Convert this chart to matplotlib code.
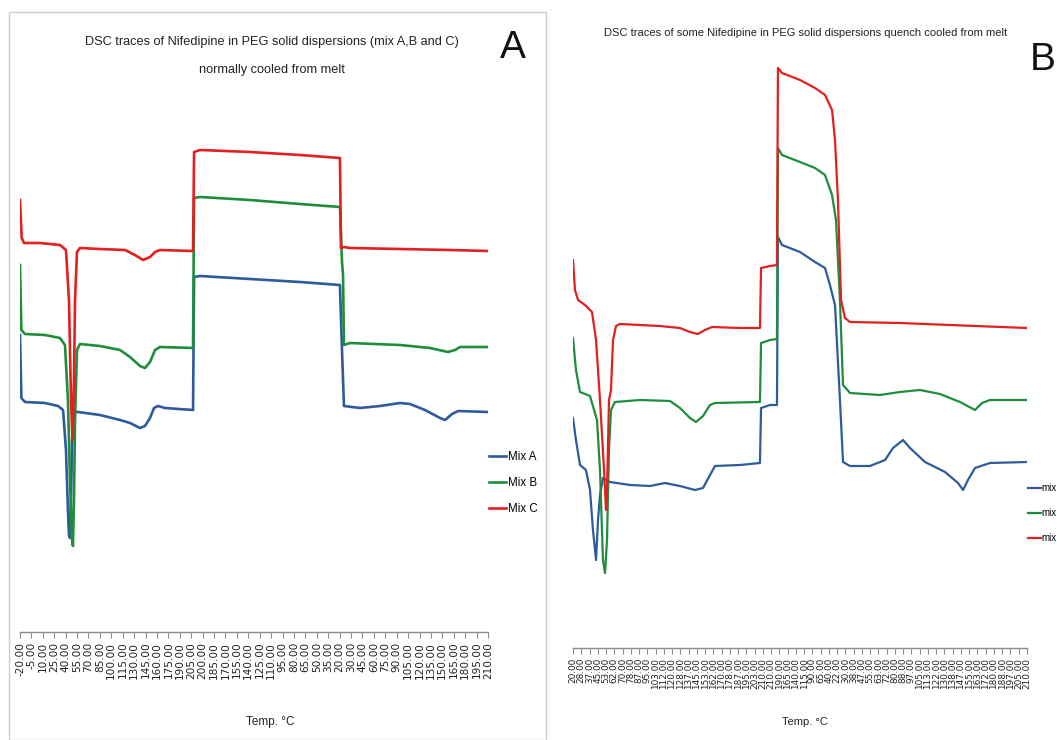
import matplotlib
matplotlib.use("Agg")
import matplotlib.pyplot as plt
from matplotlib.patches import Rectangle

W, H = 1057, 740

# ---------------- Panel A: normally cooled from melt ----------------
a_ticks = ["-20.00", "-5.00", "10.00", "25.00", "40.00", "55.00", "70.00", "85.00",
           "100.00", "115.00", "130.00", "145.00", "160.00", "175.00", "190.00", "205.00",
           "200.00", "185.00", "170.00", "155.00", "140.00", "125.00", "110.00", "95.00",
           "80.00", "65.00", "50.00", "35.00", "20.00",
           "30.00", "45.00", "60.00", "75.00", "90.00", "105.00", "120.00", "135.00",
           "150.00", "165.00", "180.00", "195.00", "210.00"]

# point position along the heat-cool-heat programme (category units) and heat flow
a_mix_a_pos = [0.0, 0.12, 0.44, 2.19, 3.33, 3.77, 4.03, 4.20, 4.29, 4.38, 4.47, 4.56, 4.73,
               5.08, 7.01, 8.76, 9.64, 10.51, 10.95, 11.39, 11.74, 12.09, 12.70, 15.16,
               15.25, 15.77, 20.15, 24.53, 28.03, 28.21, 28.38, 29.78, 31.54, 33.29, 34.17,
               35.48, 36.80, 37.24, 37.85, 38.38, 41.0]
a_mix_a = [3.65, 3.02, 2.98, 2.97, 2.94, 2.90, 2.50, 1.90, 1.65, 1.62, 2.00, 2.60, 2.88,
           2.88, 2.85, 2.80, 2.77, 2.72, 2.74, 2.82, 2.92, 2.94, 2.92, 2.90,
           4.23, 4.24, 4.21, 4.18, 4.15, 3.50, 2.94, 2.92, 2.94, 2.97, 2.96,
           2.90, 2.82, 2.80, 2.86, 2.89, 2.88]

a_mix_b_pos = [0.0, 0.12, 0.44, 2.19, 3.50, 3.94, 4.20, 4.38, 4.56, 4.64, 4.73, 4.82, 4.99,
               5.26, 7.01, 8.76, 9.64, 10.51, 10.95, 11.39, 11.83, 12.26, 15.16, 15.25,
               15.77, 20.15, 24.53, 28.03, 28.21, 28.30, 28.38, 28.91, 33.29, 35.92, 37.50,
               38.11, 38.55, 41.0]
a_mix_b = [4.35, 3.70, 3.66, 3.65, 3.62, 3.55, 3.00, 2.20, 1.60, 1.54, 2.00, 2.80, 3.50,
           3.56, 3.54, 3.50, 3.43, 3.34, 3.32, 3.38, 3.50, 3.53, 3.52, 5.02,
           5.03, 5.00, 4.96, 4.93, 4.38, 4.25, 3.55, 3.57, 3.55, 3.52, 3.48,
           3.50, 3.53, 3.53]

a_mix_c_pos = [0.0, 0.15, 0.35, 1.75, 3.50, 4.03, 4.29, 4.47, 4.60, 4.73, 4.82, 4.99, 5.26,
               7.01, 9.20, 10.07, 10.78, 11.39, 11.83, 12.26, 15.16, 15.25, 15.77, 20.15,
               24.53, 28.03, 28.12, 28.38, 28.91, 33.29, 37.67, 41.0]
a_mix_c = [5.00, 4.62, 4.57, 4.57, 4.55, 4.50, 4.00, 3.00, 2.60, 3.20, 4.00, 4.48, 4.52,
           4.51, 4.50, 4.45, 4.40, 4.43, 4.48, 4.50, 4.49, 5.48, 5.50, 5.48,
           5.45, 5.42, 4.52, 4.53, 4.52, 4.51, 4.50, 4.49]

# ---------------- Panel B: quench cooled from melt ----------------
b_ticks = ["20.00", "28.00", "37.00", "45.00", "53.00", "62.00", "70.00", "78.00", "87.00",
           "95.00", "103.00", "112.00", "120.00", "128.00", "137.00", "145.00", "153.00",
           "162.00", "170.00", "178.00", "187.00", "195.00", "203.00", "210.00",
           "210.00", "190.00", "165.00", "140.00", "115.00", "90.00", "65.00", "40.00",
           "22.00", "30.00", "38.00", "47.00", "55.00", "63.00", "72.00", "80.00", "88.00",
           "97.00", "105.00", "113.00", "122.00", "130.00", "138.00", "147.00", "155.00",
           "163.00", "172.00", "180.00", "188.00", "197.00", "205.00", "210.00"]

b_mix_a_pos = [0.0, 0.36, 0.85, 1.57, 2.06, 2.42, 2.79, 3.03, 3.27, 3.63, 4.48, 6.91, 9.33,
               11.15, 12.96, 14.78, 15.75, 16.60, 17.20, 20.23, 22.65, 22.78, 23.87, 24.71,
               24.83, 25.32, 27.50, 29.32, 30.53, 31.13, 31.74, 32.34, 32.71, 33.56, 35.98,
               37.80, 38.77, 39.98, 40.83, 42.64, 45.07, 46.64, 47.25, 47.85, 48.70, 50.52,
               55.0]
b_mix_a = [2.82, 2.60, 2.35, 2.30, 2.10, 1.70, 1.40, 1.80, 2.05, 2.22, 2.18, 2.15, 2.14,
           2.17, 2.14, 2.10, 2.12, 2.25, 2.34, 2.35, 2.37, 2.92, 2.95, 2.95,
           4.63, 4.55, 4.48, 4.38, 4.32, 4.15, 3.95, 3.00, 2.38, 2.34, 2.34,
           2.40, 2.52, 2.60, 2.52, 2.38, 2.28, 2.17, 2.10, 2.20, 2.32, 2.37,
           2.38]

b_mix_b_pos = [0.0, 0.36, 0.85, 2.06, 2.91, 3.27, 3.63, 3.88, 4.12, 4.36, 4.60, 5.09, 8.12,
               11.75, 12.96, 14.17, 14.90, 15.75, 16.60, 17.20, 22.65, 22.78, 23.87, 24.71,
               24.83, 25.32, 27.50, 29.32, 30.53, 31.38, 31.86, 32.34, 32.71, 33.56, 37.19,
               39.61, 42.03, 44.46, 46.88, 48.70, 49.55, 50.52, 55.0]
b_mix_b = [3.62, 3.30, 3.08, 3.04, 2.80, 2.30, 1.40, 1.27, 1.60, 2.50, 2.90, 2.98, 3.00,
           2.99, 2.92, 2.82, 2.78, 2.84, 2.95, 2.97, 2.98, 3.57, 3.60, 3.61,
           5.52, 5.45, 5.38, 5.32, 5.25, 5.05, 4.80, 4.00, 3.15, 3.07, 3.05,
           3.08, 3.10, 3.06, 2.98, 2.90, 2.97, 3.00, 3.00]

b_mix_c_pos = [0.0, 0.24, 0.61, 1.45, 2.30, 2.79, 3.27, 3.76, 4.00, 4.12, 4.36, 4.60, 4.85,
               5.21, 5.69, 10.54, 12.96, 14.17, 15.14, 15.99, 16.84, 20.23, 22.65, 22.78,
               23.87, 24.71, 24.83, 25.32, 27.50, 29.32, 30.53, 31.38, 31.74, 32.10, 32.47,
               32.95, 33.56, 39.61, 45.67, 55.0]
b_mix_c = [4.40, 4.10, 4.00, 3.95, 3.88, 3.60, 3.00, 2.30, 1.90, 2.10, 3.00, 3.10, 3.60,
           3.74, 3.76, 3.74, 3.72, 3.68, 3.66, 3.70, 3.73, 3.72, 3.72, 4.32,
           4.34, 4.35, 6.32, 6.27, 6.20, 6.12, 6.05, 5.90, 5.60, 5.00, 4.00,
           3.82, 3.78, 3.77, 3.75, 3.72]

a_labels = ["Mix A", "Mix B", "Mix C"]
b_labels = ["mix", "mix", "mix"]
colors = ["#2d5b9b", "#1f8e3b", "#e41f1f"]

NARROW = ["Liberation Sans", "DejaVu Sans"]

fig = plt.figure(figsize=(W / 100, H / 100), dpi=100)
fig.patch.set_facecolor("white")


def px_axes(left, right, top, bottom):
    return fig.add_axes([left / W, 1 - bottom / H, (right - left) / W, (bottom - top) / H])


def style_axis(ax, ticks, fsize):
    ax.set_xticks(range(len(ticks)))
    ax.set_xticklabels(ticks, rotation=90, fontsize=fsize, family="DejaVu Sans",
                       color="#222222")
    ax.set_xlim(0, len(ticks) - 1)
    ax.set_yticks([])
    for s in ("left", "right", "top"):
        ax.spines[s].set_visible(False)
    ax.spines["bottom"].set_color("#8c8c8c")
    ax.spines["bottom"].set_linewidth(1.0)
    ax.tick_params(axis="x", direction="out", length=4, width=0.8, color="#8c8c8c", pad=3)
    ax.set_facecolor("none")


# outline of panel A's chart area
fig.patches.append(Rectangle((9 / W, 0), 537 / W, 1 - 12 / H, transform=fig.transFigure,
                             fill=False, edgecolor="#cfcfcf", linewidth=1.0))

# Panel A
axA = px_axes(20, 488, 60, 632)
for pos, vals, lab, col in zip([a_mix_a_pos, a_mix_b_pos, a_mix_c_pos],
                               [a_mix_a, a_mix_b, a_mix_c], a_labels, colors):
    axA.plot(pos, vals, color=col, lw=1.9, label=lab, solid_joinstyle="round")
axA.set_ylim(0.68, 6.40)
style_axis(axA, a_ticks, 7.6)
axA.legend(loc="upper left", bbox_to_anchor=(489 / W, 1 - 451 / H),
           bbox_transform=fig.transFigure, frameon=False, prop={"family": NARROW, "size": 8.3},
           handlelength=1.5, handletextpad=0.15, labelspacing=1.2, borderpad=0, borderaxespad=0)

fig.text(272 / W, 1 - 42 / H, "DSC traces of Nifedipine in PEG solid dispersions (mix A,B and C)",
         ha="center", va="center", family=NARROW, fontsize=9.2, color="#222222")
fig.text(272 / W, 1 - 70 / H, "normally cooled from melt",
         ha="center", va="center", family=NARROW, fontsize=9.2, color="#222222")
fig.text(513 / W, 1 - 48 / H, "A", ha="center", va="center", family=NARROW,
         fontsize=28, color="#111111")
fig.text(270 / W, 1 - 722 / H, "Temp. \u00b0C", ha="center", va="center", family=NARROW,
         fontsize=8.5, color="#222222")

# Panel B
axB = px_axes(573, 1027, 40, 648)
for pos, vals, lab, col in zip([b_mix_a_pos, b_mix_b_pos, b_mix_c_pos],
                               [b_mix_a, b_mix_b, b_mix_c], b_labels, colors):
    axB.plot(pos, vals, color=col, lw=1.6, label=lab, solid_joinstyle="round")
axB.set_ylim(0.52, 6.60)
style_axis(axB, b_ticks, 6.4)
axB.legend(loc="upper left", bbox_to_anchor=(1028 / W, 1 - 483 / H),
           bbox_transform=fig.transFigure, frameon=False, prop={"family": NARROW, "size": 7},
           handlelength=1.3, handletextpad=0.1, labelspacing=1.55, borderpad=0, borderaxespad=0)

fig.text(806 / W, 1 - 33 / H,
         "DSC traces of some Nifedipine in PEG solid dispersions quench cooled from melt",
         ha="center", va="center", family=NARROW, fontsize=8.0, color="#222222")
fig.text(1056 / W, 1 - 60 / H, "B", ha="right", va="center", family=NARROW,
         fontsize=28, color="#111111")
fig.text(805 / W, 1 - 722 / H, "Temp. \u00b0C", ha="center", va="center", family=NARROW,
         fontsize=8, color="#222222")

fig.savefig("out.png", dpi=100, facecolor="white")
